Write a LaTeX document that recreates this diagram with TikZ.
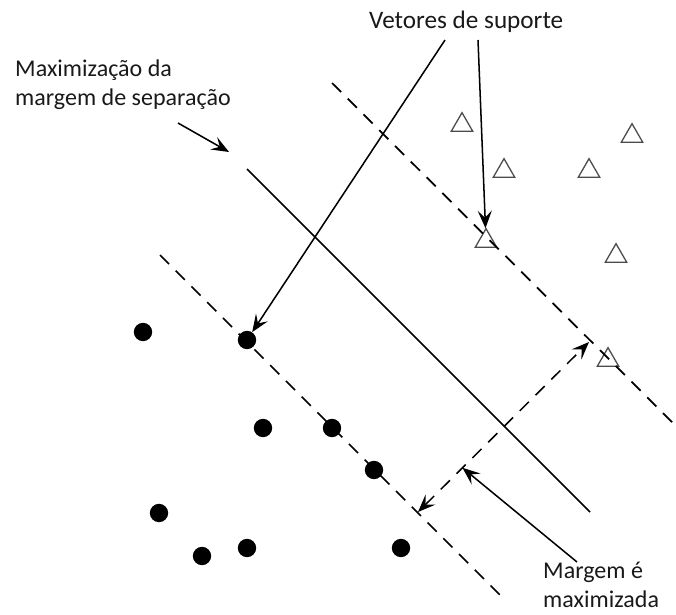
\documentclass[tikz,border=0pt]{standalone}
\usepackage{fontspec}
\setmainfont{Carlito}
\usetikzlibrary{arrows.meta, shapes.geometric}

\begin{document}
\begin{tikzpicture}[x=0.03cm, y=-0.03cm,
  rotulo/.style={font=\fontsize{20.5}{24}\selectfont, inner sep=0pt, align=left, text=black!90},
  ponto/.style={circle, fill=black, inner sep=0pt, minimum size=0.55cm},
  triang/.style={regular polygon, regular polygon sides=3, draw=black!70, line width=1.1pt, inner sep=0pt, minimum size=0.74cm},
  reta/.style={line width=1.5pt},
  tracejada/.style={line width=1.5pt, dash pattern=on 11pt off 8pt},
  ponta/.tip={Stealth[length=15pt, width=12pt, inset=6pt]},
  seta/.style={line width=1.3pt, -ponta}]
\useasboundingbox (0,0) rectangle (676,614);

% Draw the class points
\foreach \nome/\px/\py in {d1/143/332, d2/247/340, d3/263/428, d4/332/428, d5/374/470,
                            d6/159/513, d7/202/556, d8/247/548, d9/401/548} {
  \node[ponto] (\nome) at (\px,\py) {};
}
\foreach \nome/\px/\py in {t1/462/125, t2/632/136, t3/504/171, t4/589/171,
                            t5/486/241, t6/616/256, t7/608/360} {
  \node[triang] (\nome) at (\px,\py) {};
}

% Hyperplane and margin lines
\coordinate (h1) at (247,169);
\coordinate (h2) at (590,512);
\coordinate (u1) at (332,83);
\coordinate (u2) at (675,425);
\coordinate (l1) at (160,255);
\coordinate (l2) at (503,598);
\draw[reta] (h1) -- (h2);
\draw[tracejada] (u1) -- (u2);
\draw[tracejada] (l1) -- (l2);

% Margin width
\coordinate (m1) at (418,512);
\coordinate (m2) at (589,342);
\draw[tracejada, line width=1.3pt, ponta-ponta] (m1) -- coordinate[pos=0.26] (mhit) (m2);

% Labels
\node[rotulo, anchor=base west] (lblmax) at (15,105) {Maximização da\\margem de separação};
\node[rotulo, anchor=base west, font=\fontsize{21.5}{24}\selectfont] (lblvet) at (369,28) {Vetores de suporte};
\node[rotulo, anchor=base west] (lblmar) at (543,607) {Margem é\\maximizada};

% Pointer arrows
\coordinate (mxTail) at (178,123);
\coordinate (mxTip) at (229,152);
\coordinate (vt1) at (445,40);
\coordinate (vt2) at (478,40);
\coordinate (mgTail) at (577,562);
\draw[seta] (mxTail) -- (mxTip);
\draw[seta] (vt1) -- (d2);
\draw[seta] (vt2) -- (t5);
\draw[seta] (mgTail) -- (mhit);

\end{tikzpicture}
\end{document}
